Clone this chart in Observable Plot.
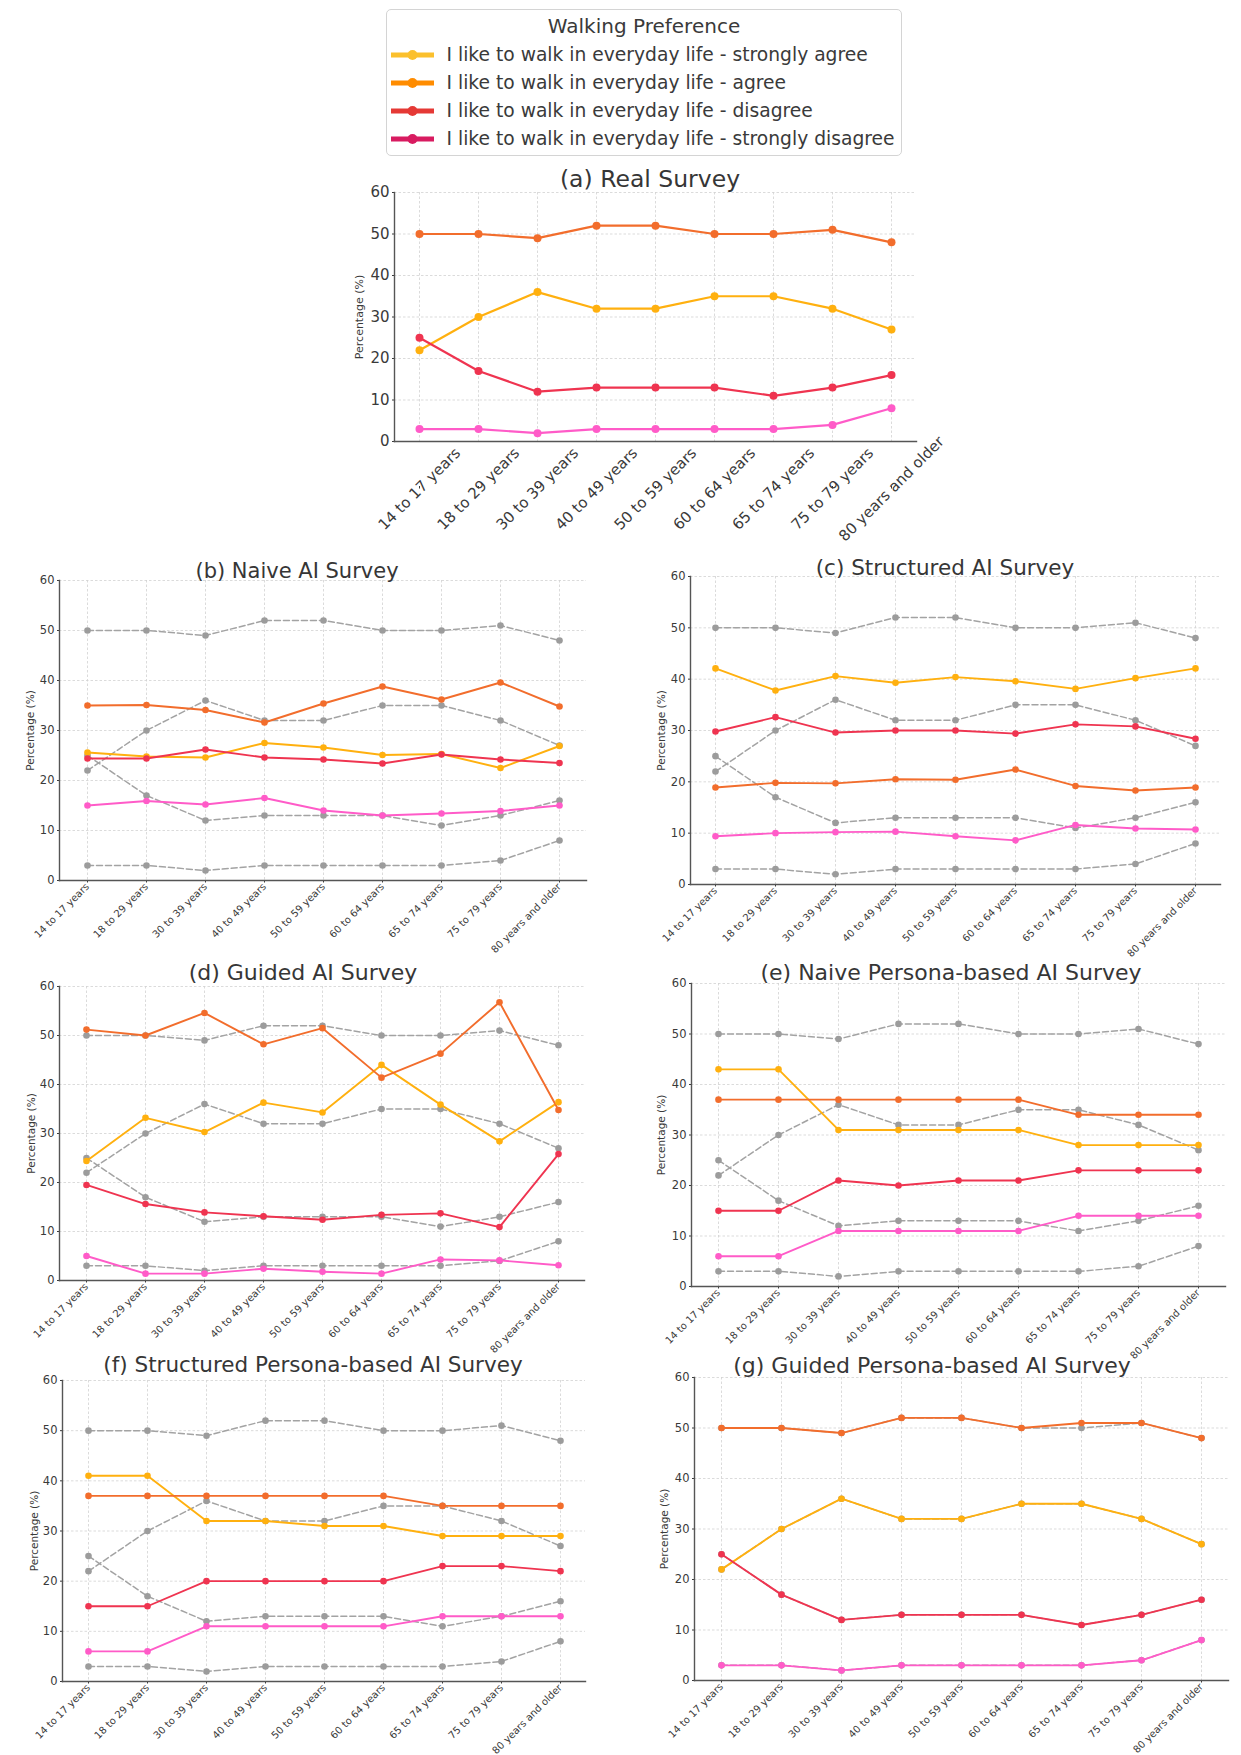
<!DOCTYPE html>
<html>
<head>
<meta charset="utf-8">
<script src="https://cdn.jsdelivr.net/npm/d3@7"></script>
<script src="https://cdn.jsdelivr.net/npm/@observablehq/plot@0.6"></script>
<style>
  html, body { margin: 0; padding: 0; background: #fff; }
  #page { position: relative; width: 1241px; height: 1755px; overflow: hidden; background: #fff;
          font-family: "DejaVu Sans", sans-serif; color: #333; }
  .panel { position: absolute; }
  .panel svg { overflow: visible; }
  .ttl { position: absolute; white-space: nowrap; line-height: 1; color: #363636; transform: translateX(-50%); }
  #legend { position: absolute; left: 386px; top: 9px; width: 514px; height: 145px;
            border: 1.5px solid #d4d4d4; border-radius: 5px; background: #fff; }
  .lg-text { position: absolute; white-space: nowrap; line-height: 1; color: #3a3a3a; }
</style>
</head>
<body>
<div id="page"></div>
<script>
// ---------------- data ----------------
const ages = ["14 to 17 years", "18 to 29 years", "30 to 39 years", "40 to 49 years", "50 to 59 years",
              "60 to 64 years", "65 to 74 years", "75 to 79 years", "80 years and older"];
const seriesNames = [
  "I like to walk in everyday life - strongly agree",
  "I like to walk in everyday life - agree",
  "I like to walk in everyday life - disagree",
  "I like to walk in everyday life - strongly disagree"
];
const yTicks = [0, 10, 20, 30, 40, 50, 60];

// (a) Real survey
const realStronglyAgree    = [22, 30, 36, 32, 32, 35, 35, 32, 27];
const realAgree            = [50, 50, 49, 52, 52, 50, 50, 51, 48];
const realDisagree         = [25, 17, 12, 13, 13, 13, 11, 13, 16];
const realStronglyDisagree = [3, 3, 2, 3, 3, 3, 3, 4, 8];

// (b) Naive AI survey
const naiveStronglyAgree    = [25.6, 24.8, 24.6, 27.5, 26.6, 25.1, 25.3, 22.5, 26.9];
const naiveAgree            = [35.0, 35.1, 34.1, 31.6, 35.4, 38.8, 36.2, 39.6, 34.8];
const naiveDisagree         = [24.4, 24.4, 26.2, 24.6, 24.2, 23.4, 25.2, 24.2, 23.5];
const naiveStronglyDisagree = [15.0, 15.9, 15.2, 16.5, 14.0, 13.0, 13.4, 13.9, 15.0];

// (c) Structured AI survey
const structuredStronglyAgree    = [42.1, 37.8, 40.6, 39.3, 40.4, 39.6, 38.1, 40.2, 42.1];
const structuredAgree            = [18.9, 19.8, 19.7, 20.5, 20.4, 22.4, 19.2, 18.3, 18.9];
const structuredDisagree         = [29.8, 32.6, 29.6, 30.0, 30.0, 29.4, 31.2, 30.8, 28.4];
const structuredStronglyDisagree = [9.4, 10.0, 10.2, 10.3, 9.4, 8.6, 11.6, 10.9, 10.7];

// (d) Guided AI survey
const guidedStronglyAgree    = [24.4, 33.2, 30.3, 36.3, 34.3, 44.0, 35.9, 28.4, 36.4];
const guidedAgree            = [51.2, 50.0, 54.6, 48.2, 51.5, 41.4, 46.3, 56.8, 34.8];
const guidedDisagree         = [19.5, 15.6, 13.9, 13.1, 12.4, 13.4, 13.7, 10.9, 25.8];
const guidedStronglyDisagree = [5.0, 1.4, 1.4, 2.4, 1.8, 1.4, 4.3, 4.1, 3.1];

// (e) Naive persona-based AI survey
const naivePersonaStronglyAgree    = [43, 43, 31, 31, 31, 31, 28, 28, 28];
const naivePersonaAgree            = [37, 37, 37, 37, 37, 37, 34, 34, 34];
const naivePersonaDisagree         = [15, 15, 21, 20, 21, 21, 23, 23, 23];
const naivePersonaStronglyDisagree = [6, 6, 11, 11, 11, 11, 14, 14, 14];

// (f) Structured persona-based AI survey
const structuredPersonaStronglyAgree    = [41, 41, 32, 32, 31, 31, 29, 29, 29];
const structuredPersonaAgree            = [37, 37, 37, 37, 37, 37, 35, 35, 35];
const structuredPersonaDisagree         = [15, 15, 20, 20, 20, 20, 23, 23, 22];
const structuredPersonaStronglyDisagree = [6, 6, 11, 11, 11, 11, 13, 13, 13];

// (g) Guided persona-based AI survey
const guidedPersonaStronglyAgree    = [22, 30, 36, 32, 32, 35, 35, 32, 27];
const guidedPersonaAgree            = [50, 50, 49, 52, 52, 50, 51, 51, 48];
const guidedPersonaDisagree         = [25, 17, 12, 13, 13, 13, 11, 13, 16];
const guidedPersonaStronglyDisagree = [3, 3, 2, 3, 3, 3, 3, 4, 8];

// ---------------- styling ----------------
const FONT = '"DejaVu Sans", sans-serif';
const lineColors   = ["#ffb00f", "#f26d2c", "#ef3450", "#ff5bc8"];
const legendColors = ["#fbc02d", "#ff8c00", "#e53935", "#d81b60"];
const refColor = "#a3a3a3";

function toRows(arrays) {
  const rows = [];
  arrays.forEach((vals, s) => vals.forEach((v, i) => rows.push({series: seriesNames[s], age: ages[i], value: v})));
  return rows;
}
const realRows = toRows([realStronglyAgree, realAgree, realDisagree, realStronglyDisagree]);

const panels = [
  {title: "(a) Real Survey", L: 394, R: 916, T: 192, B: 441, tcx: 650, tby: 188, tfs: 23.5, fs: 15, xfs: 15, lfs: 11, lOff: 35, r: 4, sw: 2.2, ref: false, centerLabels: true,
   data: [realStronglyAgree, realAgree, realDisagree, realStronglyDisagree]},
  {title: "(b) Naive AI Survey", L: 59, R: 586, T: 580, B: 880, tcx: 297, tby: 579, tfs: 21, fs: 11.5, xfs: 10, lfs: 10.5, lOff: 28.5, r: 3.3, sw: 1.9, ref: true,
   data: [naiveStronglyAgree, naiveAgree, naiveDisagree, naiveStronglyDisagree]},
  {title: "(c) Structured AI Survey", L: 690, R: 1220, T: 576, B: 884, tcx: 945, tby: 575, tfs: 21.5, fs: 11.5, xfs: 10, lfs: 10.5, lOff: 28.5, r: 3.3, sw: 1.9, ref: true,
   data: [structuredStronglyAgree, structuredAgree, structuredDisagree, structuredStronglyDisagree]},
  {title: "(d) Guided AI Survey", L: 58.5, R: 583.5, T: 986, B: 1280, tcx: 303, tby: 981, tfs: 22, fs: 11.5, xfs: 10, lfs: 10.5, lOff: 28, r: 3.3, sw: 1.9, ref: true,
   data: [guidedStronglyAgree, guidedAgree, guidedDisagree, guidedStronglyDisagree]},
  {title: "(e) Naive Persona-based AI Survey", L: 691, R: 1225, T: 983, B: 1286, tcx: 951, tby: 981, tfs: 22, fs: 11.5, xfs: 10, lfs: 10.5, lOff: 29.5, r: 3.3, sw: 1.9, ref: true,
   data: [naivePersonaStronglyAgree, naivePersonaAgree, naivePersonaDisagree, naivePersonaStronglyDisagree]},
  {title: "(f) Structured Persona-based AI Survey", L: 62, R: 585, T: 1380, B: 1681, tcx: 313, tby: 1372, tfs: 21.5, fs: 11.5, xfs: 10, lfs: 10.5, lOff: 27.5, r: 3.3, sw: 1.9, ref: true,
   data: [structuredPersonaStronglyAgree, structuredPersonaAgree, structuredPersonaDisagree, structuredPersonaStronglyDisagree]},
  {title: "(g) Guided Persona-based AI Survey", L: 694, R: 1228, T: 1377, B: 1680, tcx: 932, tby: 1374, tfs: 22, fs: 11.5, xfs: 10, lfs: 10.5, lOff: 29.5, r: 3.3, sw: 1.9, ref: true,
   data: [guidedPersonaStronglyAgree, guidedPersonaAgree, guidedPersonaDisagree, guidedPersonaStronglyDisagree]}
];

const page = document.getElementById("page");

panels.forEach(p => {
  const mL = 60, mR = 12, mT = 12, mB = 120;
  const rows = toRows(p.data);
  const grid = {stroke: "#d2d2d2", strokeOpacity: 1, strokeWidth: 0.8, strokeDasharray: "2.5,2"};
  const xAxisOpts = p.centerLabels
    ? {tickSize: 2.5, tickPadding: 0, tickRotate: -45, fontSize: p.xfs, label: null, textAnchor: "middle", lineAnchor: "middle", dy: 45}
    : {tickSize: 2.5, tickPadding: 2, tickRotate: -45, fontSize: p.xfs, label: null};
  const marks = [
    Plot.gridX(ages, grid),
    Plot.gridY(yTicks, grid),
    Plot.axisY(yTicks, {tickSize: 2, tickPadding: 3, fontSize: p.fs, label: null}),
    Plot.axisX(ages, xAxisOpts)
  ];
  if (p.ref) {
    marks.push(
      Plot.line(realRows, {x: "age", y: "value", z: "series", stroke: refColor, strokeWidth: 1.5, strokeDasharray: "6,3"}),
      Plot.dot(realRows, {x: "age", y: "value", fill: "#9c9c9c", r: p.r})
    );
  }
  marks.push(
    Plot.line(rows, {x: "age", y: "value", z: "series", stroke: "series", strokeWidth: p.sw}),
    Plot.dot(rows, {x: "age", y: "value", fill: "series", r: p.r}),
    Plot.frame({anchor: "left", stroke: "#555", strokeWidth: 1.4}),
    Plot.frame({anchor: "bottom", stroke: "#555", strokeWidth: 1.4}),
    Plot.text(["Percentage (%)"], {text: d => d, frameAnchor: "left", textAnchor: "middle", lineAnchor: "middle",
                                    rotate: -90, dx: -p.lOff, fontSize: p.lfs, fill: "#3a3a3a"})
  );
  const svg = Plot.plot({
    width: p.R - p.L + mL + mR,
    height: p.B - p.T + mT + mB,
    marginLeft: mL, marginRight: mR, marginTop: mT, marginBottom: mB,
    style: {fontFamily: FONT, fontSize: p.fs + "px", color: "#3a3a3a", background: "transparent", overflow: "visible"},
    x: {type: "point", domain: ages, padding: 0.4, label: null, axis: null},
    y: {domain: [0, 60], label: null, axis: null},
    color: {domain: seriesNames, range: lineColors},
    marks
  });
  const wrap = document.createElement("div");
  wrap.className = "panel";
  wrap.style.left = (p.L - mL) + "px";
  wrap.style.top = (p.T - mT) + "px";
  wrap.appendChild(svg);
  page.appendChild(wrap);

  const t = document.createElement("div");
  t.className = "ttl";
  t.textContent = p.title;
  t.style.fontSize = p.tfs + "px";
  t.style.left = p.tcx + "px";
  t.style.top = (p.tby - 0.85 * p.tfs) + "px";
  page.appendChild(t);
});

// ---------------- legend ----------------
const legend = document.createElement("div");
legend.id = "legend";
page.appendChild(legend);
const lgTitle = document.createElement("div");
lgTitle.className = "lg-text";
lgTitle.textContent = "Walking Preference";
lgTitle.style.fontSize = "20px";
lgTitle.style.left = (643 - 386) + "px";
lgTitle.style.transform = "translateX(-50%)";
lgTitle.style.top = (32 - 9 - 0.85 * 20) + "px";
legend.appendChild(lgTitle);
const swatchY = [54, 82, 110, 138];
seriesNames.forEach((name, i) => {
  const sw = document.createElementNS("http://www.w3.org/2000/svg", "svg");
  sw.setAttribute("width", 48); sw.setAttribute("height", 14);
  sw.style.position = "absolute";
  sw.style.left = (390 - 386 - 2) + "px";
  sw.style.top = (swatchY[i] - 9 - 7) + "px";
  sw.innerHTML = `<line x1="2" x2="45" y1="7" y2="7" stroke="${legendColors[i]}" stroke-width="5"/>` +
                 `<circle cx="23.5" cy="7" r="5" fill="${legendColors[i]}"/>`;
  legend.appendChild(sw);
  const tx = document.createElement("div");
  tx.className = "lg-text";
  tx.textContent = name;
  tx.style.fontSize = "18.7px";
  tx.style.left = (445.5 - 386) + "px";
  tx.style.top = (swatchY[i] + 7 - 9 - 0.85 * 18.7) + "px";
  legend.appendChild(tx);
});
</script>
</body>
</html>
